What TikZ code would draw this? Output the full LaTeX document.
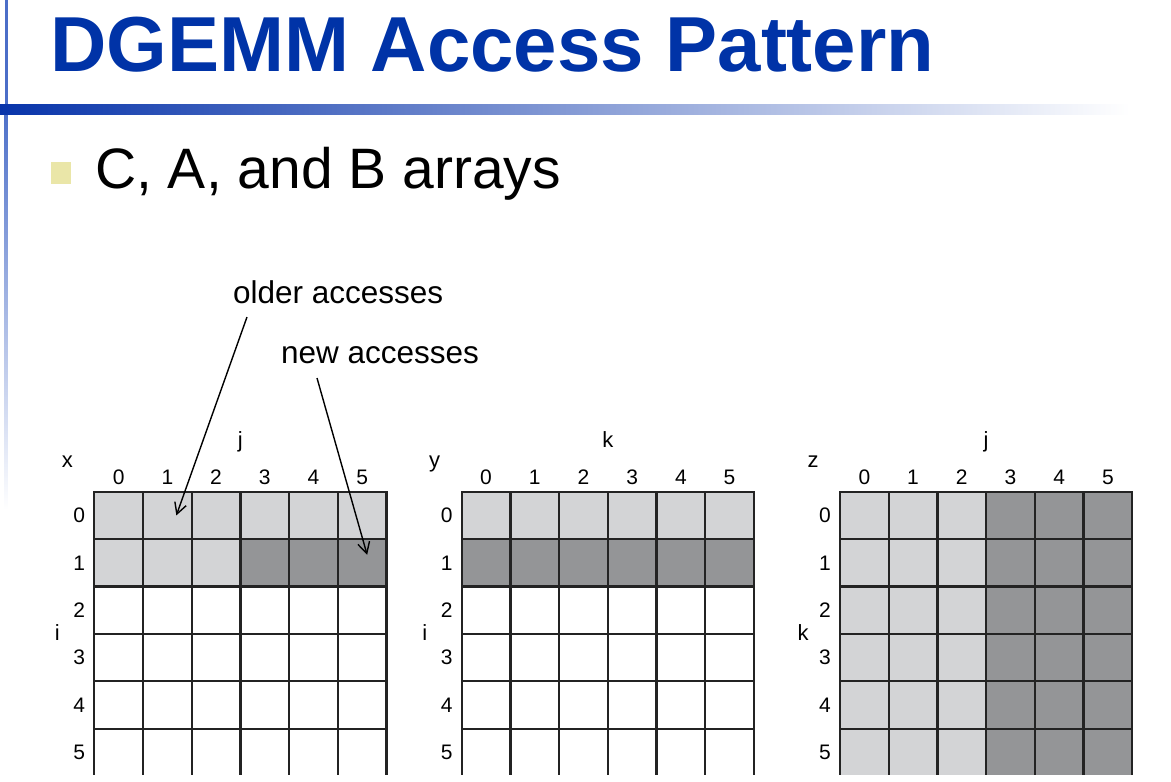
\documentclass[tikz,border=0pt]{standalone}
\usepackage{fontspec}
\setmainfont{Liberation Sans}
\usetikzlibrary{arrows.meta}
\definecolor{titleblue}{RGB}{0,51,167}
\definecolor{barblue}{RGB}{8,52,170}
\definecolor{rulecol}{RGB}{75,110,200}
\definecolor{bulletyel}{RGB}{234,230,168}
\definecolor{oldgray}{RGB}{211,212,214}
\definecolor{newgray}{RGB}{148,149,151}
\definecolor{gridline}{RGB}{35,35,35}

\begin{document}
\begin{tikzpicture}[x=1pt, y=-1pt,
  cell/.style={draw=gridline, line width=2.2pt, minimum width=48.7pt, minimum height=47.4pt, inner sep=0pt},
  idx/.style={font=\fontsize{21}{23}\selectfont, inner sep=0pt},
  axis/.style={font=\fontsize{22}{24}\selectfont, inner sep=0pt, anchor=base},
  note/.style={font=\fontsize{31.5}{34}\selectfont, inner sep=0pt, anchor=base west},
  acc/.style={line width=1.4pt, -{Straight Barb[length=11pt,width=12pt]}}]
  \useasboundingbox (0,0) rectangle (1171,782);
  % slide header
  \fill[rulecol] (4.5,0) rectangle (7.5,105);
  \shade[top color=rulecol, bottom color=white] (4.5,105) rectangle (7.5,510);
  \shade[left color=barblue, right color=white] (0,104) rectangle (1130,114);
  \node[anchor=base west, inner sep=0pt, text=titleblue, font=\fontsize{78}{80}\selectfont\bfseries] (title) at (50,71) {DGEMM Access Pattern};
  \fill[bulletyel] (51,162) rectangle (71,184);
  \node[anchor=base west, inner sep=0pt, font=\fontsize{57}{60}\selectfont] (bullet) at (95,188) {C, A, and B arrays};
  % arrays, cut at the slide bottom
  \begin{scope}
    \clip (0,0) rectangle (1171,774);
    % x
    \fill[oldgray] (94.3,491.7) rectangle (386.7,539.1);
    \fill[oldgray] (94.3,539.1) rectangle (240.4,586.5);
    \fill[newgray] (240.4,539.1) rectangle (386.7,586.5);
    % y
    \fill[oldgray] (461.7,491.7) rectangle (753.9,539.1);
    \fill[newgray] (461.7,539.1) rectangle (753.9,586.5);
    % z
    \fill[oldgray] (840,491.7) rectangle (986.1,776);
    \fill[newgray] (986.1,491.7) rectangle (1132.2,776);
    \foreach \mat/\gx in {x/94.3, y/461.7, z/840}
      \foreach \r in {0,...,5}
        \foreach \c in {0,...,5}
          \node[cell] (\mat-\r-\c) at (\gx+24.35+48.7*\c, 515.4+47.4*\r) {};
  \end{scope}
  % index labels
  \foreach \mat/\gx/\ax/\sd in {x/94.3/j/i, y/461.7/k/i, z/840/j/k} {
    \node[axis] (\mat-name) at (\gx-27,467) {\mat};
    \node[axis] (\mat-top) at (\gx+146.1,447) {\ax};
    \node[axis] (\mat-side) at (\gx-37,640) {\sd};
    \foreach \n in {0,...,5} {
      \node[idx] (\mat-col\n) at (\gx+24.35+48.7*\n,477) {\n};
      \node[idx] (\mat-row\n) at (\gx-15,515.4+47.4*\n) {\n};
    }
  }
  % callouts
  \node[note] (older) at (233,303) {older accesses};
  \node[note] (newer) at (281,363) {new accesses};
  \draw[acc] ([xshift=14pt,yshift=-14pt]older.base west) -- ([xshift=9pt]x-0-1.center);
  \draw[acc] ([xshift=36pt,yshift=-15pt]newer.base west) -- ([xshift=5pt,yshift=8pt]x-1-5.center);
\end{tikzpicture}
\end{document}
